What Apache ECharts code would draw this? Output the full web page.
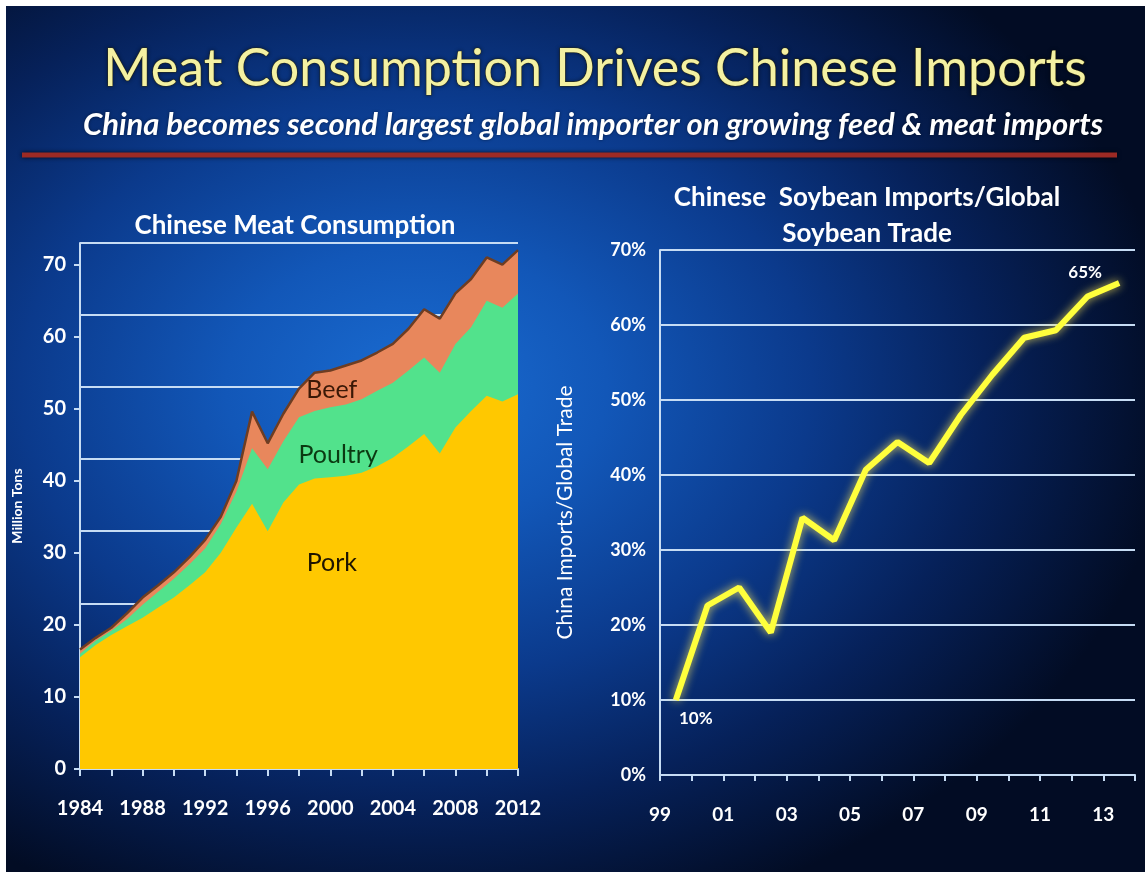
<!DOCTYPE html>
<html>
<head>
<meta charset="utf-8">
<script src="https://cdn.jsdelivr.net/npm/echarts@6/dist/echarts.min.js"></script>
<style>
  html, body { margin: 0; padding: 0; background: #ffffff; }
  #wrap { position: relative; width: 1145px; height: 872px; overflow: hidden; background: #ffffff; }
  #bg { position: absolute; left: 6px; top: 6px; right: 0; bottom: 0;
        background: radial-gradient(ellipse 760px 560px at 36% 44%, #1a6cd2 0%, #1257b8 25%, #0b3a8c 52%, #06215a 75%, #020c24 100%); }
  #chart { position: absolute; left: 0; top: 0; width: 1145px; height: 872px; }
</style>
</head>
<body>
<div id="wrap"><div id="bg"></div><div id="chart"></div></div>
<script>
// ---- Left chart: Chinese meat consumption (million tons) ----
const meatYears = [1984,1985,1986,1987,1988,1989,1990,1991,1992,1993,1994,1995,1996,1997,1998,1999,2000,2001,2002,2003,2004,2005,2006,2007,2008,2009,2010,2011,2012];
const pork    = [15.5,17.2,18.6,19.8,21.0,22.4,23.8,25.5,27.3,30.0,33.5,36.8,33.0,37.0,39.5,40.3,40.5,40.7,41.1,42.0,43.2,44.8,46.5,43.8,47.4,49.7,51.8,51.0,52.0];
const poultry = [0.5,0.6,0.6,1.0,1.8,2.2,2.6,2.9,3.3,4.0,5.0,7.7,8.6,8.5,9.3,9.4,9.7,9.9,10.2,10.5,10.4,10.5,10.6,11.2,11.6,11.6,13.2,13.0,14.0];
const beef    = [0.6,0.4,0.4,0.8,1.0,0.9,0.9,1.0,1.2,1.0,1.5,5.1,3.6,3.8,4.0,5.3,5.1,5.4,5.4,5.3,5.4,5.8,6.7,7.5,7.0,6.7,6.0,6.0,6.0];
const meatYTicks = [0,10,20,30,40,50,60,70];

// ---- Right chart: Chinese soybean imports / global soybean trade (%) ----
const soyYears = ['1999','2000','2001','2002','2003','2004','2005','2006','2007','2008','2009','2010','2011','2012','2013'];
const soyShare = [10,22.6,25,19,34.3,31.3,40.7,44.4,41.6,48,53.4,58.3,59.3,63.8,65.6];
const soyXLabels = ['99','01','03','05','07','09','11','13'];
const soyEndLabels = ['10%', '65%'];

const FONT = 'Lato, "Open Sans", sans-serif';
const GRID_C = '#c6dcf4';

const chart = echarts.init(document.getElementById('chart'), null, { renderer: 'canvas' });

// cumulative layers (stacked areas drawn back to front)
const porkTop = pork.slice();
const poultryTop = pork.map((v, i) => v + poultry[i]);
const beefTop = poultryTop.map((v, i) => v + beef[i]);
const pair = (xs, ys) => xs.map((x, i) => [x, +ys[i].toFixed(2)]);
// soybean points sit in the middle of each yearly band
const soyData = soyShare.map((v, i) => [i + 0.5, v]);

const option = {
  backgroundColor: 'transparent',
  animation: false,
  title: [
    { text: 'Meat Consumption Drives Chinese Imports', left: 590, top: 38, textAlign: 'center',
      textStyle: { color: '#f4f1a2', fontFamily: FONT, fontWeight: 'normal', fontSize: 52,
                   textBorderColor: 'rgba(70,60,0,0.7)', textBorderWidth: 1.2,
                   textShadowColor: 'rgba(0,0,0,0.45)', textShadowBlur: 4 } },
    { text: 'China becomes second largest global importer on growing feed & meat imports', left: 588, top: 104, textAlign: 'center',
      textStyle: { color: '#ffffff', fontFamily: FONT, fontWeight: 'bold', fontStyle: 'italic', fontSize: 31,
                   textShadowColor: 'rgba(0,0,0,0.5)', textShadowBlur: 3 } },
    { text: 'Chinese Meat Consumption', left: 290, top: 208, textAlign: 'center',
      textStyle: { color: '#ffffff', fontFamily: FONT, fontWeight: 'bold', fontSize: 26 } },
    { text: 'Chinese  Soybean Imports/Global\nSoybean Trade', left: 862, top: 175, textAlign: 'center',
      textStyle: { color: '#ffffff', fontFamily: FONT, fontWeight: 'bold', fontSize: 26, lineHeight: 36, align: 'center' } }
  ],
  grid: [
    { left: 80, right: 627, top: 243, bottom: 103 },
    { left: 660, right: 10, top: 250, bottom: 97 }
  ],
  xAxis: [
    { type: 'value', gridIndex: 0, min: 1984, max: 2012, interval: 2,
      axisLine: { show: true, lineStyle: { color: GRID_C, width: 2 } },
      axisTick: { show: true, length: 7, lineStyle: { color: GRID_C, width: 2 } },
      axisLabel: { color: '#ffffff', fontFamily: FONT, fontWeight: 'bold', fontSize: 20, margin: 30,
                   formatter: v => ((v - 1984) % 4 === 0 ? String(v) : '') },
      splitLine: { show: false } },
    { type: 'value', gridIndex: 1, min: 0, max: 15, interval: 1,
      axisLine: { show: true, lineStyle: { color: GRID_C, width: 2 } },
      axisTick: { show: true, length: 6, lineStyle: { color: GRID_C, width: 2 } },
      axisLabel: { color: '#ffffff', fontFamily: FONT, fontWeight: 'bold', fontSize: 19, margin: 30,
                   formatter: v => (v % 2 === 0 && v / 2 < soyXLabels.length ? soyXLabels[v / 2] : '') },
      splitLine: { show: false } }
  ],
  yAxis: [
    { type: 'value', gridIndex: 0, min: 0, max: 73, interval: 10,
      name: 'Million Tons', nameLocation: 'middle', nameRotate: 90, nameGap: 56,
      nameTextStyle: { color: '#ffffff', fontFamily: FONT, fontWeight: 'bold', fontSize: 14 },
      axisLine: { show: true, lineStyle: { color: GRID_C, width: 2 } },
      axisTick: { show: true, length: 6, customValues: meatYTicks, lineStyle: { color: GRID_C, width: 2 } },
      axisLabel: { color: '#ffffff', fontFamily: FONT, fontWeight: 'bold', fontSize: 20, margin: 14,
                   customValues: meatYTicks },
      splitLine: { show: false } },
    { type: 'value', gridIndex: 0, min: 0, max: 73, interval: 10, inverse: true, position: 'right',
      axisLine: { show: false }, axisTick: { show: false }, axisLabel: { show: false },
      splitLine: { show: true, lineStyle: { color: GRID_C, width: 2 } } },
    { type: 'value', gridIndex: 1, min: 0, max: 70, interval: 10,
      name: 'China Imports/Global Trade', nameLocation: 'middle', nameRotate: 90, nameGap: 84,
      nameTextStyle: { color: '#ffffff', fontFamily: FONT, fontWeight: 'normal', fontSize: 21 },
      axisLine: { show: true, lineStyle: { color: GRID_C, width: 2 } },
      axisTick: { show: false },
      axisLabel: { color: '#ffffff', fontFamily: FONT, fontWeight: 'bold', fontSize: 18, margin: 14,
                   formatter: '{value}%' },
      splitLine: { show: true, lineStyle: { color: GRID_C, width: 2 } } }
  ],
  series: [
    { name: 'Beef', type: 'line', xAxisIndex: 0, yAxisIndex: 0, symbol: 'none',
      data: pair(meatYears, beefTop), lineStyle: { width: 2.5, color: '#6e3d22' }, areaStyle: { color: '#e8875c', opacity: 1 }, z: 3 },
    { name: 'Poultry', type: 'line', xAxisIndex: 0, yAxisIndex: 0, symbol: 'none',
      data: pair(meatYears, poultryTop), lineStyle: { width: 0 }, areaStyle: { color: '#52e28c', opacity: 1 }, z: 4 },
    { name: 'Pork', type: 'line', xAxisIndex: 0, yAxisIndex: 0, symbol: 'none',
      data: pair(meatYears, porkTop), lineStyle: { width: 0 }, areaStyle: { color: '#ffc800', opacity: 1 }, z: 5 },
    { name: 'Soy share', type: 'line', xAxisIndex: 1, yAxisIndex: 2, symbol: 'none',
      data: soyData,
      lineStyle: { color: '#ffff3c', width: 6, shadowColor: 'rgba(255,235,90,0.85)', shadowBlur: 10 },
      z: 6 }
  ],
  graphic: [
    { type: 'line', shape: { x1: 22, y1: 155, x2: 1117, y2: 155 },
      style: { stroke: '#9c2a24', lineWidth: 5, shadowColor: 'rgba(0,0,0,0.8)', shadowBlur: 4 }, z: 10 }
  ]
};

chart.setOption(option);

// Text annotations placed in data space via the chart's own scales
const areaNotes = [
  { text: 'Beef', year: 2000.1, value: 52.6, color: '#3a1806' },
  { text: 'Poultry', year: 2000.5, value: 43.6, color: '#0b3a12' },
  { text: 'Pork', year: 2000.1, value: 28.6, color: '#1e1400' }
];
const notes = areaNotes.map(n => {
  const p = chart.convertToPixel({ xAxisIndex: 0, yAxisIndex: 0 }, [n.year, n.value]);
  return { type: 'text', x: p[0], y: p[1], z: 20,
           style: { text: n.text, fill: n.color, font: '25px ' + FONT, textAlign: 'center', textVerticalAlign: 'middle' } };
});
// labels for the first and last soybean points
const firstP = chart.convertToPixel({ xAxisIndex: 1, yAxisIndex: 2 }, soyData[0]);
const lastP = chart.convertToPixel({ xAxisIndex: 1, yAxisIndex: 2 }, soyData[soyData.length - 1]);
const ptNotes = [
  { type: 'text', x: firstP[0] + 20, y: firstP[1] + 19, z: 20,
    style: { text: soyEndLabels[0], fill: '#ffffff', font: 'bold 17px ' + FONT, textAlign: 'center', textVerticalAlign: 'middle' } },
  { type: 'text', x: lastP[0] - 34, y: lastP[1] - 10, z: 20,
    style: { text: soyEndLabels[1], fill: '#ffffff', font: 'bold 17px ' + FONT, textAlign: 'center', textVerticalAlign: 'middle' } }
];
chart.setOption({ graphic: option.graphic.concat(notes, ptNotes) });
</script>
</body>
</html>
